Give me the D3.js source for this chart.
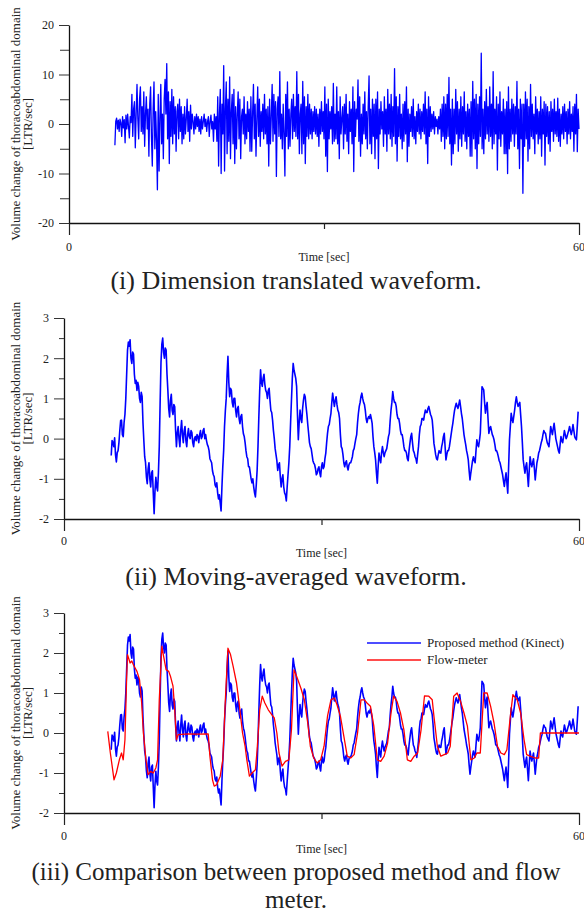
<!DOCTYPE html>
<html>
<head>
<meta charset="utf-8">
<script src="https://cdn.jsdelivr.net/npm/d3@7"></script>
<style>
  html, body { margin: 0; padding: 0; background: #fff; }
  svg { display: block; }
  text { font-family: "Liberation Serif", "Times New Roman", serif; fill: #222; }
</style>
</head>
<body>
<svg id="chart" width="584" height="914"></svg>
<script>
// ---------------- DATA ----------------
const timeDomain = [0, 60];
const xMajorTicks = [0, 60];
const xMinorTicks = [30];

const translatedMajorTicks = [-20, -10, 0, 10, 20];
const translatedMinorTicks = [-15, -5, 5, 15];
const averagedMajorTicks = [-2, -1, 0, 1, 2, 3];
const averagedMinorTicks = [-1.5, -0.5, 0.5, 1.5, 2.5];

const titles = [
  ["(i) Dimension translated waveform."],
  ["(ii) Moving-averaged waveform."],
  ["(iii) Comparison between proposed method and flow", "meter."]
];
const yLabelLines = ["Volume change of thoracoabdominal domain", "[LTR/sec]"];
const xLabel = "Time [sec]";
const legendLabels = ["Proposed method (Kinect)", "Flow-meter"];

// (i) Dimension translated waveform, evenly sampled (0.1 s) from 5.4 s to 60 s
const translatedStart = 5.4, translatedEnd = 60;
const translatedValues = [
  -4.3, 0.5, 1.2, -1.0, 0.8, -1.5, 1.0, 0.2, -2.5, 1.5, -0.8, 0.9, -3.8, 1.8, -1.0, 2.0, -0.5, -2.8, 1.5, 0.3,
  6.0, -2.5, 3.0, 4.5, -4.8, 2.0, 8.0, 1.0, -3.0, 5.0, 7.5, -1.5, 3.5, -2.0, 6.5, -4.5, 2.0, 5.5, -1.0, 3.0,
  -6.5, 4.0, 7.5, -2.5, -8.5, 3.0, 8.5, -5.0, 2.5, -3.5, -13.3, 6.0, -9.5, 1.0, 8.0, -4.0, 2.0, -7.0, 5.0, 9.0,
  2.0, 12.2, -3.0, 6.5, -8.0, 4.5, -2.5, 7.0, -4.0, 5.5, -2.0, 3.5, -5.5, 2.5, 4.0, -3.0, 5.0, -1.5, 3.5, -4.0,
  2.0, -3.0, 3.5, -2.0, 1.0, 5.0, -1.5, 2.5, -3.5, 3.8, -1.0, 2.0, 0.5, -2.0, 1.5, -1.0, 2.0, -0.5, 1.5, -1.5,
  1.0, -2.0, 1.5, -1.0, 0.5, 2.0, -0.5, 1.0, -1.5, 0.5, 1.5, -2.5, 0.5, 1.8, -1.0, 0.5, -3.5, 2.0, -1.0, 1.5,
  -3.5, 5.5, -8.5, 2.0, 7.0, -10.0, 4.0, -2.0, 11.8, -9.5, 3.0, 8.5, -6.0, 5.0, -3.5, 9.5, -7.0, 2.5, 6.0, -4.0,
  7.0, -8.0, 3.5, -5.0, 2.0, 6.5, -3.0, 5.0, -7.0, 1.5, 3.0, -2.0, 5.5, -4.0, 2.0, -3.0, 4.5, -1.5, 3.0, -5.5,
  5.5, -5.5, 2.0, 8.0, -3.0, 4.0, -6.5, 1.0, 7.5, -2.5, 5.0, -4.5, 2.5, -1.5, 4.0, -3.0, 6.0, -2.0, 3.0, -4.0,
  3.5, -8.5, 5.0, -4.0, 1.5, 8.0, -3.5, 6.0, -2.0, 4.5, -10.6, 3.0, 5.5, -2.5, 10.6, -3.0, 2.0, -5.0, 4.0, -2.0,
  -10.5, 6.0, -2.5, 8.5, -5.0, 3.0, -4.5, 2.0, 5.0, -3.0, 6.0, -1.5, 3.5, -2.5, 10.6, -3.0, 6.0, -6.0, 2.0, 4.0,
  -6.0, 8.6, -4.0, 5.5, -8.0, 3.5, -2.5, 6.0, -3.0, 4.0, -2.0, 3.0, -3.0, 2.5, -1.5, 3.5, -2.0, 3.0, -2.5, 2.0,
  -4.5, 3.0, -2.0, 4.5, -1.5, 2.5, -3.0, 7.5, -6.5, 4.0, -9.6, 5.0, -3.0, 2.5, -1.0, 3.5, -4.0, 8.2, -3.5, 2.0,
  -3.0, 7.5, -4.0, 2.5, -7.0, 5.5, -2.0, 1.0, 3.5, -5.0, 4.0, -2.0, 6.0, -3.5, 2.0, -6.0, 4.5, -1.5, 3.0, -4.0,
  7.5, -9.6, 4.5, -2.5, 3.0, 1.0, 8.9, -3.5, 5.5, -6.5, 2.0, -4.0, 4.0, -2.0, 6.5, -3.0, 2.5, -5.0, 3.5, 9.7,
  -4.0, 3.0, -6.0, 5.0, -2.5, 4.0, -7.0, 5.0, -3.0, 6.5, -9.0, 3.0, -2.0, 4.5, -1.0, 2.5, -4.5, 5.5, -2.0, 3.0,
  -5.5, 7.0, -2.0, 4.0, -3.0, 6.0, -4.5, 3.5, -2.5, 11.2, -4.0, 5.5, -7.5, 3.5, -2.5, 6.0, -3.0, 2.0, -5.0, 4.0,
  -3.5, 4.5, -2.0, 7.5, -7.6, 3.0, -4.5, 2.0, -1.5, 3.5, -2.5, 5.0, -3.0, 1.5, -4.0, 2.5, -1.5, 4.0, -2.0, 3.0,
  -3.0, 2.5, -1.5, 4.0, -2.0, 6.5, -4.0, 3.0, -8.0, 5.5, -2.5, 3.5, -1.5, 2.0, -1.0, 2.5, -2.0, 1.5, -0.5, 1.0,
  -2.0, 1.5, -1.0, 3.0, -3.5, 4.0, -2.5, 5.5, -5.0, 4.0, -3.0, 6.0, -2.5, 9.4, -4.0, 3.0, -8.3, 5.0, -6.0, 3.0,
  -4.0, 7.0, -2.0, 4.5, -5.5, 3.0, -3.0, 5.5, -4.5, 3.5, -2.0, 6.5, -3.5, 2.5, -5.0, 4.0, -2.5, 3.0, -6.5, 4.5,
  -6.5, 8.6, -3.0, 5.0, -5.0, 6.0, -9.0, 4.0, -4.0, 5.5, -2.5, 14.3, -5.0, 3.0, -6.0, 4.5, -3.0, 7.0, -2.0, 3.5,
  -3.5, 7.5, -2.5, 4.0, -5.0, 10.6, -4.0, 3.0, -2.0, 5.5, -9.3, 4.0, -3.0, 6.5, -4.5, 2.5, -2.0, 5.0, -6.0, 3.0,
  -6.0, 4.5, -10.0, 7.5, -5.0, 3.0, -3.5, 5.0, -2.0, 4.0, -4.5, 3.5, -2.0, 8.6, -5.0, 3.0, -9.0, 5.0, -3.0, 4.0,
  -14.0, 4.0, -4.5, 6.5, -3.0, 5.0, -7.5, 3.5, -5.0, 8.0, -2.5, 4.0, -3.0, 2.0, -6.0, 5.5, -2.0, 3.0, -4.0, 2.5,
  -3.0, 5.5, -6.5, 3.0, -2.0, 4.5, -8.3, 4.0, -2.5, 3.5, -4.0, 2.5, -5.5, 4.5, -1.5, 3.0, -3.5, 5.0, -2.0, 2.5,
  -2.5, 5.2, -3.5, 3.0, -4.5, 2.0, -2.0, 3.5, -3.0, 4.0, -1.5, 2.5, -4.0, 3.0, -2.0, 4.5, -3.0, 2.0, -1.5, 3.5,
  -5.5, 4.0, -2.0, 6.0, -5.6, 3.0, -1.0
];

// (ii)/(iii) Moving-averaged waveform (Kinect), evenly sampled (0.1 s) from 5.5 s to 59.9 s
const kinectStart = 5.5, kinectEnd = 59.9;
const kinectValues = [
  -0.42, -0.05, -0.1, -0.2, 0.02, -0.4, -0.58, -0.35, -0.3, -0.1, 0.2, 0.45, 0.46, 0.1, 0.05, 0.4, 0.6, 1.0, 1.6, 2.2,
  2.4, 2.3, 2.46, 2.0, 1.87, 2.15, 2.1, 1.6, 1.37, 1.45, 1.2, 1.4, 1.3, 1.0, 0.9, 1.15, 1.05, 0.4, -0.04, -0.45,
  -0.6, -0.95, -1.12, -0.75, -0.6, -1.0, -1.2, -0.85, -0.8, -1.35, -1.87, -1.3, -0.96, -1.2, -1.3, -0.85, -0.2, 0.9, 1.9, 2.35,
  2.5, 2.15, 2.0, 2.25, 2.2, 1.6, 1.2, 0.75, 0.54, 0.95, 1.1, 0.7, 0.6, 0.85, 0.79, 0.2, -0.2, 0.15, 0.3, 0.0,
  -0.2, 0.2, 0.45, 0.1, -0.1, 0.2, 0.3, -0.05, -0.2, 0.1, 0.25, 0.05, 0.0, 0.2, 0.15, -0.1, -0.2, 0.0, 0.05, -0.05,
  0.1, 0.05, -0.1, 0.1, 0.2, 0.0, 0.05, 0.2, 0.25, 0.0, 0.1, -0.05, -0.15, -0.2, -0.3, -0.5, -0.55, -0.6, -0.8, -0.9,
  -0.95, -1.15, -1.2, -1.1, -1.35, -1.5, -1.4, -1.6, -1.8, -1.2, -0.7, -0.3, 0.3, 0.7, 1.0, 1.6, 2.05, 1.4, 1.04, 1.25,
  1.2, 0.9, 0.79, 1.0, 1.0, 0.7, 0.54, 0.75, 0.8, 0.5, 0.37, 0.55, 0.6, 0.3, 0.12, 0.05, -0.1, -0.3, -0.45, -0.5,
  -0.7, -0.7, -0.85, -1.0, -1.1, -1.0, -1.2, -1.35, -1.45, -1.15, -0.79, -0.2, 0.54, 1.2, 1.71, 1.4, 1.3, 1.5, 1.6, 1.35,
  1.2, 1.15, 1.0, 1.2, 1.25, 0.95, 0.7, 0.65, 0.46, 0.2, 0.0, -0.25, -0.4, -0.55, -0.79, -0.65, -0.6, -0.95, -1.2, -1.0,
  -0.9, -1.2, -1.35, -1.4, -1.55, -1.2, -0.9, -0.6, -0.2, 0.4, 0.96, 1.5, 1.87, 1.7, 1.6, 1.5, 1.3, 0.6, -0.03, 0.4,
  0.71, 0.5, 0.4, 0.75, 0.96, 1.1, 1.04, 0.8, 0.6, 0.35, 0.13, -0.1, -0.2, -0.25, -0.4, -0.55, -0.61, -0.65, -0.75, -0.9,
  -0.86, -0.75, -0.7, -0.85, -0.95, -0.7, -0.6, -0.75, -0.7, -0.5, -0.36, -0.1, 0.13, 0.3, 0.35, 0.5, 0.63, 0.9, 1.13, 0.95,
  0.8, 0.95, 1.04, 0.85, 0.71, 0.65, 0.5, 0.1, -0.2, -0.25, -0.4, -0.6, -0.7, -0.6, -0.55, -0.7, -0.78, -0.65, -0.6, -0.6,
  -0.53, -0.45, -0.3, -0.25, -0.12, 0.0, 0.1, 0.4, 0.63, 0.8, 0.9, 1.05, 1.13, 1.0, 0.9, 0.85, 0.71, 0.5, 0.4, 0.5,
  0.55, 0.5, 0.6, 0.5, 0.38, 0.05, -0.2, -0.35, -0.53, -0.85, -1.11, -0.7, -0.36, -0.5, -0.6, -0.35, -0.2, -0.35, -0.45, -0.35,
  -0.3, -0.25, -0.1, 0.05, 0.13, 0.45, 0.71, 0.9, 1.17, 1.0, 0.9, 0.9, 0.8, 0.6, 0.5, 0.5, 0.38, 0.2, 0.1, 0.1,
  -0.03, -0.2, -0.3, -0.3, -0.36, -0.5, -0.55, -0.3, -0.12, 0.05, 0.13, -0.1, -0.3, -0.35, -0.45, -0.5, -0.61, -0.4, -0.2, 0.1,
  0.3, 0.35, 0.5, 0.5, 0.46, 0.6, 0.71, 0.65, 0.65, 0.75, 0.8, 0.7, 0.6, 0.55, 0.46, 0.2, -0.12, -0.25, -0.4, -0.5,
  -0.53, -0.4, -0.3, -0.35, -0.36, -0.2, -0.1, 0.05, 0.13, -0.2, -0.53, -0.4, -0.3, -0.3, -0.2, -0.05, 0.1, 0.25, 0.38, 0.55,
  0.7, 0.8, 0.88, 0.8, 0.75, 0.85, 0.96, 0.8, 0.63, 0.5, 0.3, 0.1, -0.03, -0.15, -0.3, -0.4, -0.53, -0.8, -1.03, -0.85,
  -0.7, -0.55, -0.45, -0.55, -0.6, -0.3, -0.03, -0.15, -0.2, -0.05, 0.13, 0.7, 1.29, 1.25, 1.21, 0.9, 0.63, 0.8, 0.9, 0.5,
  0.13, 0.25, 0.3, 0.2, 0.1, 0.05, -0.03, -0.15, -0.3, -0.3, -0.36, -0.45, -0.55, -0.6, -0.7, -0.8, -0.9, -1.05, -1.19, -1.0,
  -0.85, -1.1, -1.36, -0.7, -0.03, 0.3, 0.63, 0.5, 0.4, 0.55, 0.71, 0.9, 1.04, 0.9, 0.8, 0.85, 0.9, 0.6, 0.3, -0.1,
  -0.53, -0.7, -0.86, -0.7, -0.6, -0.9, -1.19, -0.8, -0.45, -0.6, -0.7, -0.6, -0.5, -0.75, -1.03, -0.8, -0.6, -0.5, -0.36, -0.3,
  -0.2, -0.1, -0.03, 0.1, 0.2, 0.15, 0.13, 0.0, -0.1, -0.15, -0.2, 0.05, 0.3, 0.2, 0.1, 0.25, 0.38, 0.2, 0.0, -0.1,
  -0.2, -0.3, -0.36, -0.15, 0.05, -0.05, -0.1, 0.05, 0.2, 0.1, 0.0, 0.05, 0.13, 0.2, 0.3, 0.2, 0.1, 0.2, 0.35, 0.2,
  0.05, 0.0, -0.03, 0.3, 0.67
];

// (iii) Flow-meter reference
const flowTime = [
  5.1, 5.4, 5.83, 6.1, 6.45, 6.7, 6.9, 7.1, 7.3, 7.4, 7.7, 7.9, 8.1, 8.3, 8.5, 8.8, 9.05, 9.25, 9.55, 9.8,
  10.1, 10.4, 10.7, 10.9, 11.1, 11.4, 11.6, 11.9, 12.2, 12.4, 12.7, 12.9, 13.1, 13.3, 14.5, 15.5, 16.8,
  17.0, 17.3, 17.5, 17.8, 18.2, 18.5, 18.8, 19.1, 19.4, 19.7, 20.1, 20.4, 20.8, 21.1, 21.3, 21.6, 21.9,
  22.3, 22.5, 22.8, 23.1, 23.4, 23.8, 24.2, 24.5, 24.8, 25.05, 25.4, 25.8, 26.2, 26.5, 26.8, 27.1, 27.6,
  28.0, 28.4, 28.7, 29.1, 29.5, 29.9, 30.3, 30.7, 31.1, 31.5, 31.8, 32.2, 32.6, 33.0, 33.4, 33.8, 34.2,
  34.6, 35.0, 35.3, 35.7, 36.1, 36.5, 36.9, 37.3, 37.7, 38.1, 38.4, 38.8, 39.2, 39.6, 40.0, 40.4, 40.8,
  41.2, 41.6, 42.0, 42.5, 42.9, 43.1, 43.5, 43.9, 44.3, 44.7, 45.0, 45.4, 45.8, 46.2, 46.6, 47.0, 47.4,
  47.8, 48.1, 48.5, 48.9, 49.3, 49.7, 50.1, 50.5, 50.9, 51.3, 51.6, 52.0, 52.3, 52.8, 53.2, 53.6, 53.9,
  54.3, 54.9, 55.3, 55.5, 57.5, 60.0
];
const flowValue = [
  0.04, -0.5, -1.17, -1.0, -0.67, -0.5, -0.67, -0.17, 1.4, 1.96, 1.75, 1.8, 1.7, 1.62, 1.54, 1.33, 0.75, 0.0, -0.67, -1.04,
  -0.96, -1.0, -0.875, -0.67, 0.83, 2.17, 1.92, 1.58, 1.54, 1.42, 1.17, 0.58, -0.17, -0.04, -0.02, -0.03, -0.02,
  -0.58, -1.17, -1.33, -1.29, -1.08, -0.67, 0.83, 2.12, 1.96, 1.67, 1.25, 0.75, 0.0, -0.33, -0.67, -1.08, -1.0,
  -0.92, -0.42, 0.58, 0.92, 0.75, 0.58, 0.46, 0.375, 0.0, -0.5, -0.83, -0.71, -0.67, 0.08, 1.58, 1.42, 1.12,
  0.83, 0.25, -0.33, -0.625, -0.75, -0.67, -0.33, 0.42, 0.83, 0.875, 0.71, 0.42, -0.08, -0.58, -0.625, -0.54, 0.0,
  0.83, 0.83, 0.75, 0.67, 0.17, -0.67, -0.71, -0.58, -0.25, 0.5, 0.92, 0.79, 0.5, 0.08, -0.67, -0.71, -0.58,
  -0.5, 0.08, 0.93, 0.92, 0.83, 0.42, -0.33, -0.58, -0.54, -0.5, -0.33, 0.92, 1.0, 0.79, 0.5, 0.17, -0.67,
  -0.625, -0.5, -0.5, 1.0, 1.0, 0.67, 0.25, -0.33, -0.5, -0.54, -0.42, 0.42, 0.96, 0.83, 0.5, -0.17, -0.54,
  -0.58, -0.625, -0.625, 0.0, 0.0, 0.0
];

// ---------------- DRAWING ----------------
const svg = d3.select("#chart");

function evenSeries(values, t0, t1) {
  const step = (t1 - t0) / (values.length - 1);
  return values.map((v, i) => ({ t: t0 + i * step, v }));
}

const panels = [
  { x0: 69, x1: 579, yTop: 25, yBot: 223, domain: [-20, 20], major: translatedMajorTicks, minor: translatedMinorTicks,
    majorLen: 10, minorLen: 9, zeroBase: 251, timeBase: 261, titleBase: 289, titleSize: 26, title: titles[0] },
  { x0: 64, x1: 579, yTop: 318, yBot: 519, domain: [-2, 3], major: averagedMajorTicks, minor: averagedMinorTicks,
    majorLen: 10, minorLen: 5, zeroBase: 545, timeBase: 557, titleBase: 585, titleSize: 26, title: titles[1] },
  { x0: 64, x1: 579, yTop: 613, yBot: 813, domain: [-2, 3], major: averagedMajorTicks, minor: averagedMinorTicks,
    majorLen: 10, minorLen: 5, zeroBase: 840, timeBase: 853, titleBase: 880, titleSize: 25, title: titles[2] }
];

panels.forEach((p) => {
  const x = d3.scaleLinear().domain(timeDomain).range([p.x0, p.x1]);
  const y = d3.scaleLinear().domain(p.domain).range([p.yBot, p.yTop]);
  p.x = x; p.y = y;
  const g = svg.append("g");

  // y axis major
  const yAx = g.append("g").attr("transform", `translate(${p.x0},0)`)
    .call(d3.axisLeft(y).tickValues(p.major).tickSize(p.majorLen).tickSizeOuter(0).tickPadding(5).tickFormat(d => String(d)));
  yAx.select(".domain").attr("stroke", "#111").attr("stroke-width", 1.3);
  yAx.selectAll(".tick line").attr("stroke", "#333").attr("stroke-width", 1);
  yAx.selectAll(".tick text").attr("font-family", "Liberation Serif, serif").attr("font-size", 12).attr("fill", "#222");
  // y axis minor
  const yMin = g.append("g").attr("transform", `translate(${p.x0},0)`)
    .call(d3.axisLeft(y).tickValues(p.minor).tickSize(p.minorLen).tickSizeOuter(0).tickFormat(""));
  yMin.select(".domain").remove();
  yMin.selectAll(".tick line").attr("stroke", "#333").attr("stroke-width", 1);

  // x axis
  const xAx = g.append("g").attr("transform", `translate(0,${p.yBot})`)
    .call(d3.axisBottom(x).tickValues(xMajorTicks).tickSize(12).tickSizeOuter(0).tickFormat(""));
  xAx.select(".domain").attr("stroke", "#111").attr("stroke-width", 1.5);
  xAx.selectAll(".tick line").attr("stroke", "#222").attr("stroke-width", 1.2);
  const xMinAx = g.append("g").attr("transform", `translate(0,${p.yBot})`)
    .call(d3.axisBottom(x).tickValues(xMinorTicks).tickSize(6).tickSizeOuter(0).tickFormat(""));
  xMinAx.select(".domain").remove();
  xMinAx.selectAll(".tick line").attr("stroke", "#222").attr("stroke-width", 1.2);

  // x tick labels
  g.selectAll("text.xt").data(xMajorTicks).enter().append("text")
    .attr("x", d => x(d)).attr("y", p.zeroBase)
    .attr("text-anchor", "middle").attr("font-size", 12).text(d => String(d));

  // x label
  g.append("text").attr("x", x(30)).attr("y", p.timeBase)
    .attr("text-anchor", "middle").attr("font-size", 12).text(xLabel);

  // y label (two lines)
  const cy = (p.yTop + p.yBot) / 2;
  yLabelLines.forEach((line, li) => {
    g.append("text")
      .attr("transform", `translate(${li === 0 ? 20 : 32},${cy}) rotate(-90)`)
      .attr("text-anchor", "middle").attr("font-size", 13).text(line);
  });

  // title
  p.title.forEach((line, li) => {
    g.append("text").attr("x", 296).attr("y", p.titleBase + li * 28)
      .attr("text-anchor", "middle").attr("font-size", p.titleSize).attr("fill", "#111").text(line);
  });
});

const lineGen = (p) => d3.line().x(d => p.x(d.t)).y(d => p.y(d.v));

// panel (i)
svg.append("path").datum(evenSeries(translatedValues, translatedStart, translatedEnd))
  .attr("d", lineGen(panels[0])).attr("fill", "none").attr("stroke", "#0000ff").attr("stroke-width", 1.3)
  .attr("stroke-linejoin", "round");

// panel (ii)
const kinect = evenSeries(kinectValues, kinectStart, kinectEnd);
svg.append("path").datum(kinect)
  .attr("d", lineGen(panels[1])).attr("fill", "none").attr("stroke", "#0000ff").attr("stroke-width", 1.6)
  .attr("stroke-linejoin", "round");

// panel (iii)
svg.append("path").datum(kinect)
  .attr("d", lineGen(panels[2])).attr("fill", "none").attr("stroke", "#0000ff").attr("stroke-width", 1.6)
  .attr("stroke-linejoin", "round");
const flow = flowTime.map((t, i) => ({ t, v: flowValue[i] }));
svg.append("path").datum(flow)
  .attr("d", lineGen(panels[2])).attr("fill", "none").attr("stroke", "#ff0000").attr("stroke-width", 1.3)
  .attr("stroke-linejoin", "round");

// legend
const legendColors = ["#4d4dff", "#ff4d4d"];
const lg = svg.append("g");
legendLabels.forEach((lab, i) => {
  const yy = 643 + i * 17;
  lg.append("line").attr("x1", 367).attr("x2", 421).attr("y1", yy).attr("y2", yy)
    .attr("stroke", legendColors[i]).attr("stroke-width", 2);
  lg.append("text").attr("x", 427).attr("y", yy + 4).attr("font-size", 13).text(lab);
});
</script>
</body>
</html>
